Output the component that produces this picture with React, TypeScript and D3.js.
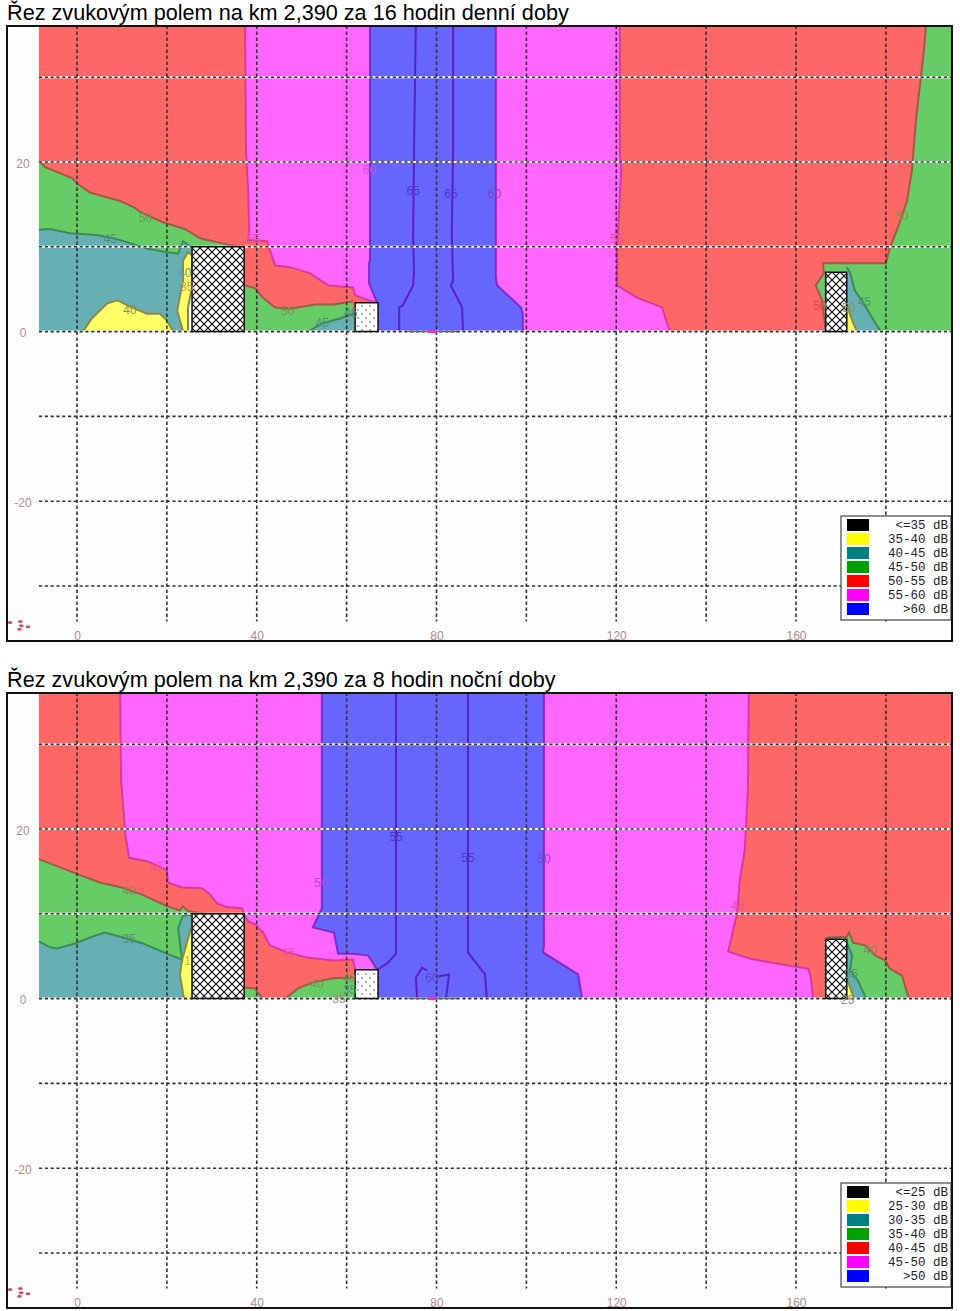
import React, { useEffect, useRef } from 'react';
import * as d3 from 'd3';

type Pt = [number, number];

const dayTitle = 'Řez zvukovým polem na km 2,390 za 16 hodin denní doby';
const nightTitle = 'Řez zvukovým polem na km 2,390 za 8 hodin noční doby';

const dayLegend = ['<=35 dB', '35-40 dB', '40-45 dB', '45-50 dB', '50-55 dB', '55-60 dB', '>60 dB'];
const nightLegend = ['<=25 dB', '25-30 dB', '30-35 dB', '35-40 dB', '40-45 dB', '45-50 dB', '>50 dB'];
const legendColors = ['#000000', '#ffff00', '#008080', '#00a000', '#ff0000', '#ff00ff', '#0000ff'];

const xTicks = [0, 40, 80, 120, 160];
const yTicks = [20, 0, -20];
const xGrid = [0, 20, 40, 60, 80, 100, 120, 140, 160, 180];
const yGrid = [30, 20, 10, 0, -10, -20, -30];

// distance along the cut (m), height (m)
const XMIN = -8.46;
const XMAX = 194.5;
const YTOP = 36.1;

const barrierLeft: Pt[] = [[25.6, 0], [25.6, 10], [37.2, 10], [37.2, 0]];
const barrierMid: Pt[] = [[61.9, 0], [61.9, 3.4], [67, 3.4], [67, 0]];
const barrierRight: Pt[] = [[166.6, 0], [166.6, 7], [171.3, 7], [171.3, 0]];
const roadBar = [73.7, 84.6];
const roadMark = [78.1, 80.1];

// ---- day contours
const day50Left: Pt[] = [[-8.46, 20.1], [-7.1, 19.4], [-1.1, 18.1], [0.2, 17.4], [2.9, 16.4], [9.6, 15.4], [12.5, 14.7], [14.5, 14], [19.1, 12.9], [24, 12.1], [27.4, 11], [34, 10.2], [37.2, 10]];
const day45Left: Pt[] = [[-8.46, 12], [-6, 12.1], [-1.6, 11.6], [4.5, 11.4], [8.9, 10.9], [15.6, 9.8], [20, 9.35], [22.5, 9.2], [23.6, 10.65], [25.6, 9.9]];
const day40Left: Pt[] = [[1.3, 0], [3.3, 1.55], [6.7, 3.3], [8.9, 3.7], [12.2, 2.85], [15.6, 2.1], [18.5, 2.1], [20, 1.3], [21.4, 0]];
const day35Strip: Pt[] = [[23.6, 0], [22.3, 2.5], [23.6, 6], [23.6, 8.4], [24.7, 9.35], [25.6, 9], [25.6, 5.2], [24.7, 2.85], [24.7, 0]];
const dayWhiteStrip: Pt[] = [[24.7, 2.85], [25.6, 5.2], [25.6, 0], [24.7, 0]];
const day55Left: Pt[] = [[37.4, 36.1], [37.6, 21.4], [38.1, 16.7], [38.3, 12], [38.1, 10.8], [42.3, 10.65], [42.9, 9.6], [44.1, 7.8], [47.4, 7.6], [51.8, 6.9], [55.9, 5.45], [61.4, 5.2], [61.9, 4.3], [64.8, 3.7], [67, 3.4]];
const day60Left: Pt[] = [[65.2, 36.1], [65.2, 20], [65.2, 8.4], [65, 8.05], [65, 5.7], [66.8, 3.4], [67, 3.4]];
const day60Right: Pt[] = [[93.2, 36.1], [93.2, 21.4], [93.2, 6.4], [93.5, 5.45], [98.8, 2.85], [99.2, 2.1], [99.2, 0]];
const day65Left: Pt[] = [[75.4, 36.1], [75, 21.4], [74.8, 11.2], [75, 7], [74.8, 5.45], [72.5, 3.1], [71.7, 2.85], [71.7, 0]];
const day65Right: Pt[] = [[83.7, 36.1], [83.7, 21.4], [83.4, 11.6], [83.7, 6], [83.2, 5.45], [85.7, 2.85], [85.9, 0]];
const day55Right: Pt[] = [[120.8, 36.1], [120.8, 21.4], [121.1, 19], [120.2, 9.9], [120.2, 5.45], [124.6, 4], [130.2, 2.85], [131.9, 0]];
const day50Right: Pt[] = [[188.9, 36.1], [188.5, 33.3], [186.7, 25], [185.8, 19], [184.7, 15.4], [182.7, 12.3], [180.9, 9.9], [180, 8.05], [166, 8.05], [166.2, 6.9], [164.4, 5.45], [165.8, 3.7], [166.6, 0]];
const day45Right: Pt[] = [[171.3, 7.6], [172, 7], [173.1, 4.85], [174.2, 4], [176, 2.5], [177.6, 1.05], [178.9, 0]];
const day40Right: Pt[] = [[171.3, 3.1], [172.7, 1.05], [173.6, 0]];
const dayGreenGap50: Pt[] = [[37.4, 5.45], [39.6, 5.1], [41.4, 4], [44.1, 2.85], [47.4, 2.7], [53, 3.2], [57, 3.2], [61.4, 3.55]];
const dayTealGap45: Pt[] = [[51.4, 0], [54.5, 0.95], [58.5, 1.55], [60.3, 1.9], [61.6, 2.1]];

// ---- night contours
const night40Left: Pt[] = [[-8.46, 16.45], [-0.45, 14.8], [5.1, 13.7], [10, 13.1], [14.7, 12.2], [20, 10.9], [22.9, 10.4], [23.6, 10.9], [24.7, 10.3], [30.3, 9.9], [37.2, 9.9]];
const night35Left: Pt[] = [[-8.46, 6.75], [-6, 6.05], [-4.45, 5.9], [-0.45, 6.5], [2.9, 7.2], [6.2, 7.8], [10.2, 7.2], [14.7, 6.5], [20, 5.3], [23.4, 4.6], [23.1, 5.7], [22.5, 8.3], [23.6, 9.8], [25.8, 9.9]];
const night30Left: Pt[] = [[25.4, 8.4], [23.4, 4.6], [22.9, 2.85], [23.8, 0], [25.6, 0]];
const night45Left: Pt[] = [[9.6, 36.1], [9.8, 25.8], [10.5, 21.1], [10.7, 19.5], [11.6, 16.6], [15.6, 16.2], [18.5, 15.5], [20, 15.15], [20.2, 13.7], [23.4, 13.1], [27.8, 13], [29.6, 12.3], [31.2, 11.2], [33.4, 10.8], [36.7, 10.65], [37.2, 10]];
const night45LeftLow: Pt[] = [[37.2, 9.9], [38.1, 9.1], [39.6, 8.75], [41.4, 7.8], [42.9, 6.3], [46.7, 5.45], [51.2, 4.85], [57, 4.5], [61.4, 4.6], [61.9, 3.4]];
const night50Left: Pt[] = [[54.5, 36.1], [54.5, 21.1], [54.5, 10.65], [52.5, 8.4], [57.2, 7.8], [58.1, 5.3], [61.4, 5.3], [64.8, 5.1], [66.8, 3.4], [67, 3.4]];
const night50Right: Pt[] = [[103.9, 36.1], [103.9, 21.1], [103.9, 6.3], [103.7, 5.45], [111.5, 2.85], [112.4, 0]];
const night55Left: Pt[] = [[71, 36.1], [71, 21.1], [71, 5.3], [69, 4.15], [66.8, 3.4]];
const night55Right: Pt[] = [[87, 36.1], [87, 21.1], [87, 5.45], [90.8, 2.85], [91.2, 0]];
const night60Left: Pt[] = [[75.7, 0], [75.4, 2.5], [76.8, 3.65], [77.9, 3.3]];
const night60Right: Pt[] = [[80.3, 2.6], [82.8, 2.85], [82.1, 0]];
const night45Right: Pt[] = [[149.5, 36.1], [149.3, 24.6], [148.6, 17.5], [147.5, 14], [146.9, 10.05], [144.9, 5.55], [149.8, 4.7], [159.3, 3.8], [162.7, 3.55], [163.3, 2.5], [163.8, 0]];
const night40Right: Pt[] = [[166.6, 7], [167.1, 7.2], [171.3, 7.3], [171.8, 7.8], [172.7, 6.6], [175.3, 6.3], [177.6, 5.1], [179.8, 4.5], [180.9, 3.55], [183.6, 2.7], [185.1, 0]];
const night35Right: Pt[] = [[171.3, 6.6], [172.5, 5.1], [172, 3.3], [173.8, 2.1], [175.6, 0]];
const night30Right: Pt[] = [[171.3, 2.4], [172.9, 0], [171.6, 0]];
const nightGap40a: Pt[] = [[37.2, 1.3], [39.6, 1.2], [41.2, 0.1], [41.4, 0]];
const nightGap40b: Pt[] = [[46.3, 0], [49.2, 1.2], [52.3, 1.9], [57, 2.4], [61.4, 2.5], [61.9, 2.5]];

// contour labels: x, y, text, colour
const dayLabels: [number, number, string, string][] = [
  [7.4, 11, '45', '#4f8f7c'], [15.2, 13.4, '50', '#7c9050'], [39.2, 11, '55', '#f050a0'], [46.9, 2.5, '50', '#7c9050'],
  [54.5, 1.05, '45', '#4f8f7c'], [60.9, 2.2, '45', '#4f8f7c'], [11.8, 2.6, '40', '#8c8c50'], [24, 6.9, '40', '#6c9090'], [24.4, 5.3, '35', '#c8a050'],
  [65.1, 19.1, '60', '#d050d8'], [74.8, 16.6, '65', '#5038c0'], [83.2, 16.3, '65', '#5038c0'], [92.9, 16.3, '60', '#8040d0'],
  [120.2, 11, '55', '#f050a0'], [165.3, 3.1, '50', '#e04848'], [171.8, 2.8, '50', '#909060'], [175.2, 3.5, '45', '#4f8f7c'], [183.6, 13.6, '50', '#909040'],
];
const nightLabels: [number, number, string, string][] = [
  [17.6, 15.6, '45', '#f050a0'], [11.6, 12.7, '40', '#7c9050'], [11.6, 7, '35', '#4f8f7c'], [54.3, 13.7, '50', '#c040d8'],
  [71, 19.1, '55', '#5038c0'], [87, 16.6, '55', '#5038c0'], [103.9, 16.5, '50', '#8040d0'], [47, 5.45, '45', '#f050a0'],
  [147.1, 11, '45', '#f050a0'], [53.4, 1.8, '40', '#7c9050'], [60.5, 2.4, '40', '#7c9050'], [60.7, 1, '35', '#4f8f7c'],
  [58.3, -0.05, '35', '#a09090'], [79, 2.4, '60', '#5a48c8'], [176.5, 5.7, '40', '#7c9050'], [172.3, 2.9, '35', '#4f8f7c'], [171.5, -0.1, '25', '#a09090'], [24.6, 4.5, '1', '#c8c040'],
];

// small marks in the corner of the frame
const cornerMarks: Pt[] = [[-14.9, -34.3], [-12.6, -34.2], [-12.4, -34.7], [-12.8, -35.1], [-10.9, -34.8]];

const RED = '#ff6666';
const MAGENTA = '#ff66ff';
const BLUE = '#6666ff';
const GREEN = '#66cc66';
const TEAL = '#66b0b4';
const YELLOW = '#ffff66';

const LINE_GREEN = '#a05a48';
const LINE_TEAL = '#3f8a58';
const LINE_YELLOW = '#8a8a4a';
const LINE_MAGENTA = '#d83aa0';
const LINE_BLUE = '#7a2cd0';
const LINE_INNER = '#5a20c0';

interface Layer {
  line: Pt[];
  close?: Pt[];
  fill?: string;
  stroke?: string;
}

const bl = (x: number): Pt => [x, 0];

const dayLayers: Layer[] = [
  { line: day50Left, close: [[37.2, 0], [-8.46, 0]], fill: GREEN, stroke: LINE_GREEN },
  { line: day45Left, close: [[25.6, 0], [-8.46, 0]], fill: TEAL, stroke: LINE_TEAL },
  { line: day40Left, fill: YELLOW, stroke: LINE_YELLOW },
  { line: day35Strip, fill: YELLOW, stroke: LINE_YELLOW },
  { line: dayWhiteStrip, fill: '#ffffff' },
  { line: dayGreenGap50, close: [[61.6, 0], bl(37.4)], fill: GREEN, stroke: LINE_GREEN },
  { line: dayTealGap45, close: [[61.6, 0]], fill: TEAL, stroke: LINE_TEAL },
  { line: day55Left, close: [bl(67), bl(131.9), ...[...day55Right].reverse().slice(1)], fill: MAGENTA, stroke: LINE_MAGENTA },
  { line: day55Right, stroke: LINE_MAGENTA },
  { line: day60Left, close: [bl(67), bl(99.2), ...[...day60Right].reverse().slice(1)], fill: BLUE, stroke: LINE_BLUE },
  { line: day60Right, stroke: LINE_BLUE },
  { line: day65Left, stroke: LINE_INNER },
  { line: day65Right, stroke: LINE_INNER },
  { line: day50Right, close: [bl(194.5), [194.5, 36.1]], fill: GREEN, stroke: LINE_GREEN },
  { line: day45Right, close: [bl(171.3)], fill: TEAL, stroke: LINE_TEAL },
  { line: day40Right, close: [bl(171.3)], fill: YELLOW, stroke: LINE_YELLOW },
];

const nightLayers: Layer[] = [
  { line: night40Left, close: [[37.2, 0], [-8.46, 0]], fill: GREEN, stroke: LINE_GREEN },
  { line: night35Left, close: [[25.8, 0], [-8.46, 0]], fill: TEAL, stroke: LINE_TEAL },
  { line: night30Left, fill: YELLOW, stroke: LINE_YELLOW },
  { line: nightGap40a, close: [bl(37.2)], fill: GREEN, stroke: LINE_GREEN },
  { line: nightGap40b, close: [bl(61.9)], fill: GREEN, stroke: LINE_GREEN },
  { line: night45Left, close: [...night45LeftLow, bl(67), bl(163.8), ...[...night45Right].reverse().slice(1)], fill: MAGENTA, stroke: LINE_MAGENTA },
  { line: night45LeftLow, stroke: LINE_MAGENTA },
  { line: night45Right, stroke: LINE_MAGENTA },
  { line: night50Left, close: [bl(67), bl(112.4), ...[...night50Right].reverse().slice(1)], fill: BLUE, stroke: LINE_BLUE },
  { line: night50Right, stroke: LINE_BLUE },
  { line: night55Left, stroke: LINE_INNER },
  { line: night55Right, stroke: LINE_INNER },
  { line: night60Left, stroke: LINE_INNER },
  { line: night60Right, stroke: LINE_INNER },
  { line: night40Right, close: [bl(166.6)], fill: GREEN, stroke: LINE_GREEN },
  { line: night35Right, close: [bl(171.3)], fill: TEAL, stroke: LINE_TEAL },
  { line: night30Right, close: [bl(171.3)], fill: YELLOW, stroke: LINE_YELLOW },
];

const App: React.FC = () => {
  const svgRef = useRef<SVGSVGElement>(null);

  useEffect(() => {
    if (!svgRef.current) return;
    const svg = d3.select(svgRef.current);
    svg.selectAll('*').remove();

    const defs = svg.append('defs');
    const hatch = defs.append('pattern').attr('id', 'hatch').attr('patternUnits', 'userSpaceOnUse').attr('width', 8).attr('height', 8);
    hatch.append('rect').attr('width', 8).attr('height', 8).attr('fill', '#fff');
    hatch.append('path').attr('d', 'M0,0L8,8M8,0L0,8').attr('stroke', '#111').attr('stroke-width', 1.2);
    const dots = defs.append('pattern').attr('id', 'dots').attr('patternUnits', 'userSpaceOnUse').attr('width', 8).attr('height', 8);
    dots.append('rect').attr('width', 8).attr('height', 8).attr('fill', '#fff');
    dots.append('circle').attr('cx', 2).attr('cy', 2).attr('r', 0.7).attr('fill', '#222');
    dots.append('circle').attr('cx', 6).attr('cy', 6).attr('r', 0.7).attr('fill', '#222');

    const panel = (
      top: number,
      title: string,
      layers: Layer[],
      labels: [number, number, string, string][],
      legend: string[],
    ) => {
      const x = d3.scaleLinear().domain([0, 160]).range([77, 796]);
      const y = d3.scaleLinear().domain([0, 20]).range([top + 305.6, top + 136]);
      const g = svg.append('g');
      const line = d3.line<Pt>().x((d) => x(d[0])).y((d) => y(d[1]));

      g.append('text')
        .attr('x', 7)
        .attr('y', top - 6)
        .attr('font-family', 'Liberation Sans')
        .attr('font-size', 21.65)
        .attr('fill', '#000')
        .text(title);

      g.append('rect').attr('x', 8).attr('y', top).attr('width', 943).attr('height', 615).attr('fill', '#fdfdfd');

      // red band is the base, everything else is painted over it
      g.append('rect')
        .attr('x', x(XMIN))
        .attr('y', y(YTOP))
        .attr('width', x(XMAX) - x(XMIN))
        .attr('height', y(0) - y(YTOP))
        .attr('fill', RED);

      layers.filter((l) => l.fill).forEach((l) => {
        g.append('path')
          .attr('d', line([...l.line, ...(l.close || [])]) + 'Z')
          .attr('fill', l.fill as string);
      });
      layers.filter((l) => l.stroke).forEach((l) => {
        g.append('path')
          .attr('d', line(l.line))
          .attr('fill', 'none')
          .attr('stroke', l.stroke as string)
          .attr('stroke-width', 2);
      });

      // dashed grid
      yGrid.forEach((v) => {
        g.append('line').attr('x1', x(XMIN)).attr('x2', x(XMAX)).attr('y1', y(v)).attr('y2', y(v)).attr('stroke', '#fff').attr('stroke-width', 2);
        g.append('line').attr('x1', x(XMIN)).attr('x2', x(XMAX)).attr('y1', y(v)).attr('y2', y(v)).attr('stroke', '#333').attr('stroke-width', 1.6).attr('stroke-dasharray', '3.2 2.6');
      });
      xGrid.forEach((v) => {
        g.append('line').attr('x1', x(v)).attr('x2', x(v)).attr('y1', y(YTOP)).attr('y2', y(-34.2)).attr('stroke', '#333').attr('stroke-width', 1.6).attr('stroke-dasharray', '3.5 2.5');
      });

      // barriers
      [barrierLeft, barrierRight].forEach((b) => {
        g.append('path').attr('d', line(b) + 'Z').attr('fill', 'url(#hatch)').attr('stroke', '#111').attr('stroke-width', 1.5);
      });
      g.append('path').attr('d', line(barrierMid) + 'Z').attr('fill', 'url(#dots)').attr('stroke', '#111').attr('stroke-width', 1.5);

      // road
      g.append('line').attr('x1', x(roadBar[0])).attr('x2', x(roadBar[1])).attr('y1', y(0)).attr('y2', y(0)).attr('stroke', '#666').attr('stroke-width', 1.5);
      g.append('line').attr('x1', x(roadMark[0])).attr('x2', x(roadMark[1])).attr('y1', y(0)).attr('y2', y(0)).attr('stroke', '#e030d0').attr('stroke-width', 3);

      // contour labels
      labels.forEach(([lx, ly, txt, col]) => {
        g.append('text')
          .attr('x', x(lx))
          .attr('y', y(ly))
          .attr('dy', '0.35em')
          .attr('text-anchor', 'middle')
          .attr('font-family', 'Liberation Sans')
          .attr('font-size', 12)
          .attr('fill', col)
          .text(txt);
      });

      // axes
      const xAxis = g.append('g')
        .attr('transform', `translate(0,${top + 602})`)
        .call(d3.axisBottom(x).tickValues(xTicks).tickSize(0).tickFormat((d) => String(d)));
      const yAxis = g.append('g')
        .attr('transform', 'translate(23,1.5)')
        .call(d3.axisLeft(y).tickValues(yTicks).tickSize(0).tickPadding(0).tickFormat((d) => String(d)));
      [xAxis, yAxis].forEach((a) => {
        a.select('.domain').remove();
        a.selectAll('text').attr('font-family', 'Liberation Sans').attr('font-size', 12).attr('fill', '#b08a8a');
      });
      yAxis.selectAll('text').attr('text-anchor', 'middle');

      g.selectAll('ellipse.mark')
        .data(cornerMarks)
        .enter()
        .append('ellipse')
        .attr('class', 'mark')
        .attr('cx', (d) => x(d[0]))
        .attr('cy', (d) => y(d[1]))
        .attr('rx', 2.4)
        .attr('ry', 1.5)
        .attr('fill', '#c4566a');

      // legend
      const lg = g.append('g').attr('transform', `translate(841,${top + 490})`);
      lg.append('rect').attr('width', 110).attr('height', 104).attr('fill', '#fff').attr('stroke', '#444').attr('stroke-width', 1.2);
      legend.forEach((t, i) => {
        lg.append('rect').attr('x', 6).attr('y', 3 + i * 14).attr('width', 22).attr('height', 12).attr('fill', legendColors[i]);
        lg.append('text')
          .attr('x', 107)
          .attr('y', 13 + i * 14)
          .attr('text-anchor', 'end')
          .attr('font-family', 'Liberation Mono')
          .attr('font-size', 12.5)
          .attr('fill', '#222')
          .text(t);
      });

      // frame
      g.append('rect').attr('x', 7).attr('y', top).attr('width', 945).attr('height', 615).attr('fill', 'none').attr('stroke', '#111').attr('stroke-width', 2);
    };

    panel(26, dayTitle, dayLayers, dayLabels, dayLegend);
    panel(693, nightTitle, nightLayers, nightLabels, nightLegend);
  }, []);

  return <svg ref={svgRef} width={960} height={1311} style={{ position: 'absolute', left: 0, top: 0 }} />;
};

export default App;
